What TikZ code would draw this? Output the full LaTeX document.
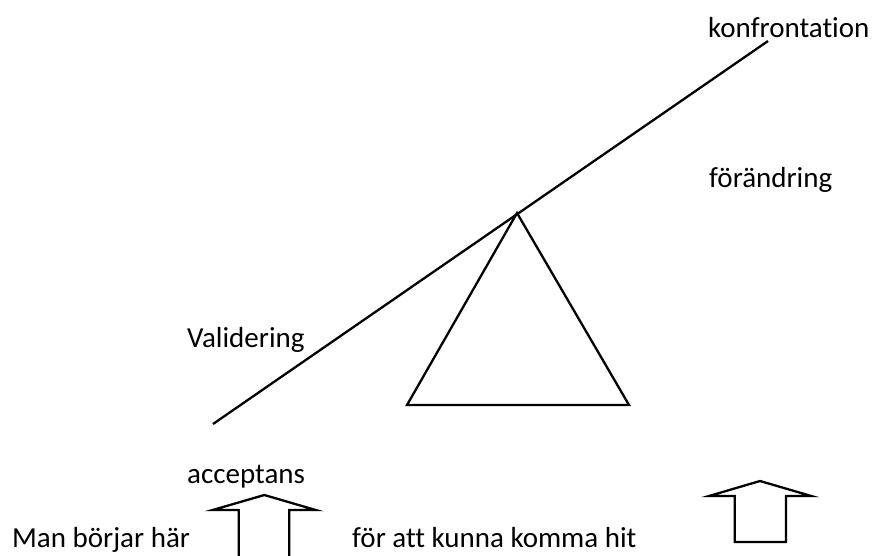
\documentclass[tikz,border=0pt]{standalone}
\usepackage{fontspec}
\setmainfont{Carlito}[Ligatures=NoCommon]
\begin{document}
\begin{tikzpicture}[x=1pt,y=-1pt,
  lbl/.style={anchor=base west,inner sep=0pt,font=\fontsize{29}{34}\selectfont},
  stroke/.style={line width=2.3pt,line join=miter}]
\useasboundingbox (0,0) rectangle (882,555);
\begin{scope}
\clip (0,0) rectangle (882,555);
% seesaw beam
\coordinate (beamL) at (213,424);
\coordinate (beamR) at (768,41);
\draw[stroke] (beamL) -- (beamR);
% fulcrum
\coordinate (apex) at (517,213);
\coordinate (baseL) at (407,405);
\coordinate (baseR) at (629,405);
\draw[stroke] (apex) -- (baseL) -- (baseR) -- cycle;
% left arrow (open at bottom)
\draw[stroke] (238.7,560) -- (238.7,510) -- (212.7,510) -- (264.3,495)
  -- (315.7,510) -- (289.3,510) -- (289.3,560);
% right arrow
\draw[stroke] (734.7,542) -- (734.7,496) -- (709,496) -- (760,481)
  -- (811.3,496) -- (786,496) -- (786,542) -- cycle;
\end{scope}
% labels
\node[lbl] (konf) at (708,37) {konfrontation};
\node[lbl] (forand) at (709,187) {förändring};
\node[lbl] (valid) at (187,347) {Validering};
\node[lbl] (accept) at (187,483) {acceptans};
\node[lbl] (borjar) at (12,547) {Man börjar här};
\node[lbl] (hit) at (352,547) {för att kunna komma hit};
\end{tikzpicture}
\end{document}
